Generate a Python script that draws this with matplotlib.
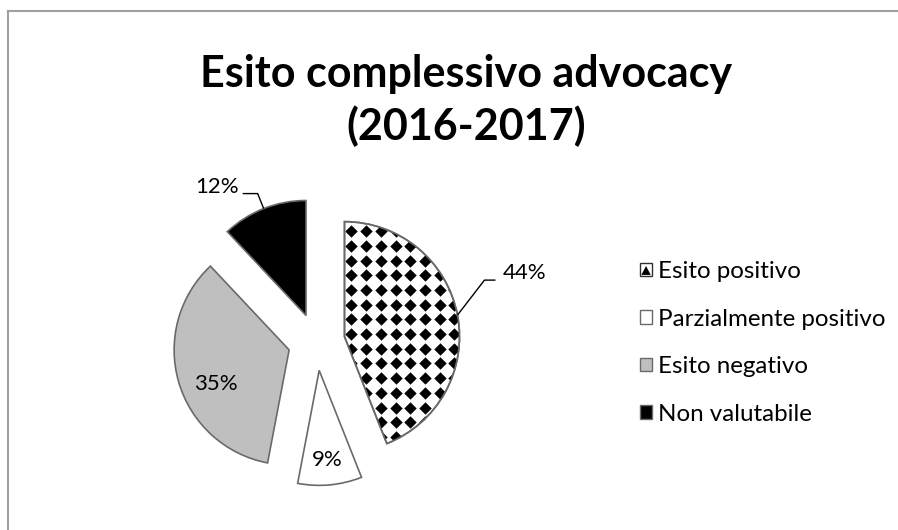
import matplotlib
matplotlib.use("Agg")
import matplotlib.pyplot as plt
import numpy as np
from matplotlib.patches import Wedge, Rectangle, Polygon
from matplotlib.legend_handler import HandlerBase
from matplotlib.lines import Line2D

# ---- data ----
title_line1 = "Esito complessivo advocacy"
title_line2 = "(2016-2017)"
categories = ["Esito positivo", "Parzialmente positivo", "Esito negativo", "Non valutabile"]
values = [44, 9, 35, 12]

# ---- style ----
W, H = 898, 530
FONT = "Lato"
colors = ["white", "white", "#bfbfbf", "black"]
EDGE = "#6a6a6a"

fig = plt.figure(figsize=(W / 100, H / 100), dpi=100)
ax = fig.add_axes([0, 0, 1, 1])

CX, CY = 316.5, H - 342
R = 115
EXP = 28.5

wedges, _ = ax.pie(values, explode=[EXP] * len(values), radius=R, center=(CX, CY),
                   startangle=90, counterclock=False, colors=colors,
                   wedgeprops=dict(edgecolor=EDGE, linewidth=1.2))
ax.set_xlim(0, W)
ax.set_ylim(0, H)
ax.set_aspect("equal")
ax.axis("off")

# checker (diamond) fill for the first wedge
w0 = wedges[0]
ax0x, ax0y = w0.center
step = 14.7
gx, gy = np.meshgrid(np.arange(ax0x + 7 - 2 * step, ax0x + R + step, step),
                     np.arange(ax0y - R - step, ax0y + R + step, step))
sc = ax.scatter(gx.ravel(), gy.ravel(), marker="D", s=40, c="black",
                linewidths=0, zorder=w0.get_zorder() + 0.1)
sc.set_clip_path(w0)
ax.add_patch(Wedge(w0.center, w0.r, w0.theta1, w0.theta2, fill=False,
                   edgecolor=EDGE, linewidth=1.2, zorder=w0.get_zorder() + 0.2))


def mid_dir(w):
    t = np.deg2rad((w.theta1 + w.theta2) / 2)
    return np.cos(t), np.sin(t)


LBL = 16
# inside labels
inside = {1: (0.78, 0.0), 2: (0.70, 9.0)}
for i, (f, dtheta) in inside.items():
    w = wedges[i]
    t = np.deg2rad((w.theta1 + w.theta2) / 2 + dtheta)
    ax.text(w.center[0] + f * R * np.cos(t), w.center[1] + f * R * np.sin(t),
            f"{values[i]}%", ha="center", va="center", fontsize=LBL, family=FONT,
            zorder=5)

# outside labels with leader lines: (elbow dx, dy, end dx, text dx, text dy, ha)
outside = {0: (27, 35, 38, 7, 7, "left"), 3: (-6, 15, -21, -4, 7, "right")}
for i, (ex, ey, endx, tdx, tdy, ha) in outside.items():
    w = wedges[i]
    dx, dy = mid_dir(w)
    px, py = w.center[0] + R * dx, w.center[1] + R * dy
    ax.plot([px, px + ex, px + endx], [py, py + ey, py + ey], color="black",
            linewidth=1.0, zorder=5, solid_capstyle="butt")
    ax.text(px + endx + tdx, py + ey + tdy, f"{values[i]}%", ha=ha, va="center",
            fontsize=LBL, family=FONT, zorder=5)

# title
fig.text(466 / W, 1 - 87 / H, title_line1, ha="center", va="baseline",
         fontsize=31, fontweight="bold", family=FONT)
fig.text(466 / W, 1 - 140 / H, title_line2, ha="center", va="baseline",
         fontsize=31, fontweight="bold", family=FONT)


# legend
class CheckerHandler(HandlerBase):
    def create_artists(self, legend, orig_handle, xdescent, ydescent, width,
                       height, fontsize, trans):
        x0, y0 = -xdescent, -ydescent
        r = Rectangle((x0, y0), width, height, facecolor="white",
                      edgecolor="#303030", linewidth=1.0, transform=trans)
        t = Polygon([[x0 + 1, y0 + 1], [x0 + width / 2, y0 + height * 0.75],
                     [x0 + width - 1, y0 + 1]], closed=True, facecolor="black",
                    edgecolor="none", transform=trans)
        return [r, t]


handles = [Rectangle((0, 0), 1, 1, facecolor=c, edgecolor=EDGE, linewidth=1.0)
           for c in colors]
leg = ax.legend(handles, categories, loc="upper left",
                bbox_to_anchor=(640 / W, 1 - 261 / H), bbox_transform=fig.transFigure,
                frameon=False, borderpad=0, borderaxespad=0,
                prop=dict(family=FONT, size=17.4), handlelength=0.5, handleheight=0.5,
                handletextpad=0.25, labelspacing=1.1,
                handler_map={handles[0]: CheckerHandler()})

# chart-area border (cropped)
fig.add_artist(Line2D([7.5 / W, 7.5 / W], [0, 1 - 10.5 / H], transform=fig.transFigure,
                      color="#a0a0a0", linewidth=1.5))
fig.add_artist(Line2D([7.5 / W, 1.01], [1 - 10.5 / H, 1 - 10.5 / H], transform=fig.transFigure,
                      color="#a0a0a0", linewidth=1.5))

fig.savefig("out.png", dpi=100, facecolor="white")
